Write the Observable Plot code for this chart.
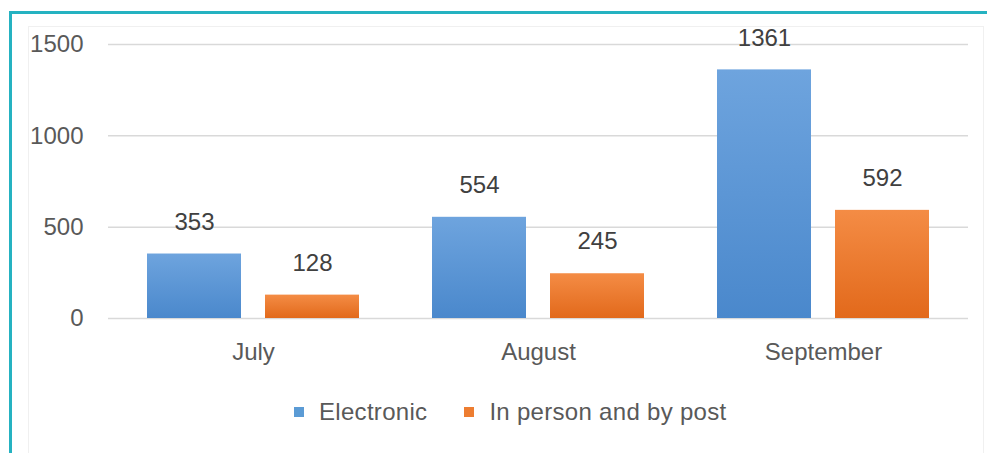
<!DOCTYPE html>
<html><head><meta charset="utf-8">
<script src="https://cdn.jsdelivr.net/npm/d3@7"></script>
<script src="https://cdn.jsdelivr.net/npm/@observablehq/plot@0.6"></script>
<style>
body{margin:0;background:#fff;font-family:"Liberation Sans",Arial,sans-serif;}
#wrap{position:relative;width:987px;height:453px;overflow:hidden;background:#fff}
#frame{position:absolute;left:9px;top:11px;right:-10px;bottom:-10px;border-top:3px solid #25b2c1;border-left:3px solid #25b2c1;}
#inner{position:absolute;left:28px;top:26px;width:954px;bottom:-10px;border:1px solid #f0f0f0;}
#grid, #chart{position:absolute;left:0;top:0;}
#legend{position:absolute;top:398px;left:294px;display:flex;align-items:center;font-size:24px;color:#595959;letter-spacing:0.3px;}
.sw{width:10px;height:10px;margin-right:15px;}
.item{display:flex;align-items:center;margin-right:37px;}
</style></head>
<body>
<svg width="0" height="0" style="position:absolute">
<defs>
<linearGradient id="gBlue" x1="0" y1="0" x2="0" y2="1"><stop offset="0" stop-color="#6ea4de"/><stop offset="1" stop-color="#4a88cc"/></linearGradient>
<linearGradient id="gOrange" x1="0" y1="0" x2="0" y2="1"><stop offset="0" stop-color="#f48c45"/><stop offset="1" stop-color="#e2691b"/></linearGradient>
</defs></svg>
<div id="wrap">
<div id="frame"></div>
<div id="inner"></div>
<div id="grid"></div>
<div id="chart"></div>
<div id="legend"></div>
</div>
<script>
const months = ["July", "August", "September"];
const series = ["Electronic", "In person and by post"];
const electronic = [353, 554, 1361];
const inPerson = [128, 245, 592];
const yTicks = [0, 500, 1000, 1500];
const fills = ["url(#gBlue)", "url(#gOrange)"];
const swatches = ["#5b9bd5", "#ed7d31"];

const rows = [];
months.forEach((m, i) => {
  rows.push({month: m, series: series[0], value: electronic[i]});
  rows.push({month: m, series: series[1], value: inPerson[i]});
});

const font = "'Liberation Sans', Arial, sans-serif";
const common = {
  width: 987, height: 380,
  marginLeft: 108, marginRight: 19, marginTop: 44, marginBottom: 62,
  style: {fontFamily: font, fontSize: "24px", color: "#595959", background: "transparent", overflow: "visible"},
};

// Background: continuous gridlines and y axis
const grid = Plot.plot({
  ...common,
  y: {domain: [0, 1500], label: null},
  marks: [
    Plot.ruleY(yTicks, {stroke: "#d9d9d9", strokeWidth: 1.5}),
    Plot.axisY(yTicks, {tickSize: 0, tickPadding: 25, fontSize: 24, fill: "#595959", label: null, tickFormat: d => String(d)})
  ]
});
document.getElementById("grid").appendChild(grid);

// Foreground: grouped bars via month facets
const chart = Plot.plot({
  ...common,
  fx: {domain: months, paddingInner: 0.25, paddingOuter: 0.133, label: null},
  x: {domain: series, paddingInner: 0.2, paddingOuter: 0, axis: null},
  y: {domain: [0, 1500], axis: null, label: null},
  color: {domain: series, range: fills},
  marks: [
    Plot.barY(rows, {fx: "month", x: "series", y: "value", fill: "series"}),
    Plot.text(rows, {fx: "month", x: "series", y: "value", text: d => String(d.value), dy: -32, fontSize: 24, fill: "#404040"}),
    Plot.axisFx({anchor: "bottom", tickSize: 0, tickPadding: 24, fontSize: 24, fill: "#595959", label: null})
  ]
});
document.getElementById("chart").appendChild(chart);

const legend = document.getElementById("legend");
series.forEach((s, i) => {
  const it = document.createElement("div");
  it.className = "item";
  const sw = document.createElement("div");
  sw.className = "sw";
  sw.style.background = swatches[i];
  const t = document.createElement("span");
  t.textContent = s;
  it.appendChild(sw); it.appendChild(t);
  legend.appendChild(it);
});
</script>
</body></html>
